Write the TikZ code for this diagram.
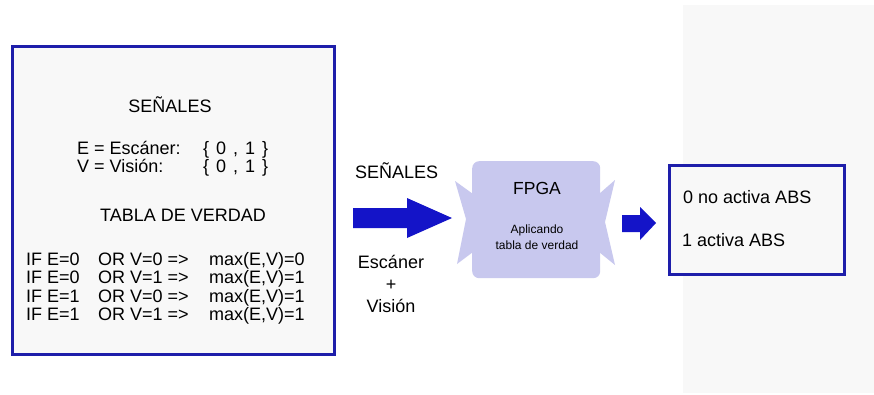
\documentclass[tikz,border=0pt]{standalone}
\usepackage{fontspec}
\setmainfont{Liberation Sans}
\definecolor{boxblue}{RGB}{30,30,170}
\definecolor{arrowblue}{RGB}{20,20,200}
\definecolor{lav}{RGB}{200,200,238}
\definecolor{panel}{RGB}{248,248,248}
\definecolor{boxfill}{RGB}{248,248,248}
\begin{document}
\begin{tikzpicture}[x=1pt,y=-1pt,
  txt/.style={inner sep=0pt,font=\fontsize{18}{18}\selectfont},
  small/.style={inner sep=0pt,font=\fontsize{12}{13}\selectfont},
  framebox/.style={draw=boxblue,line width=3pt,fill=boxfill},
  bigarrow/.style={fill=arrowblue,draw=none}]
\useasboundingbox (0,0) rectangle (874,394);
\fill[white] (0,0) rectangle (874,394);
% right grey panel
\fill[panel] (683,5) rectangle (874,393);

% left box
\node[framebox,minimum width=322pt,minimum height=308pt,anchor=north west] (left) at (11,45) {};
\node[txt,anchor=base] (t1) at (170,112) {SEÑALES};
\node[txt,anchor=base west] (e1) at (77,154) {E = Escáner:};
\node[txt,anchor=base west] (e2) at (203,154) {\{\hspace{2pt} 0\hspace{2pt} ,\hspace{2pt} 1\hspace{2pt} \}};
\node[txt,anchor=base west] (v1) at (77,172) {V = Visión:};
\node[txt,anchor=base west] (v2) at (203,172) {\{\hspace{2pt} 0\hspace{2pt} ,\hspace{2pt} 1\hspace{2pt} \}};
\node[txt,anchor=base] (t2) at (183,221) {TABLA DE VERDAD};
\foreach \i/\e/\v/\m in {0/0/0/0,1/0/1/1,2/1/0/1,3/1/1/1}{
  \node[txt,anchor=base west] (ra\i) at (26,265+18.5*\i) {IF E=\e};
  \node[txt,anchor=base west] (rb\i) at (98,265+18.5*\i) {OR};
  \node[txt,anchor=base west] (rc\i) at (130,265+18.5*\i) {V=\v\ =>};
  \node[txt,anchor=base west] (rd\i) at (209,265+18.5*\i) {max(E,V)=\m};
}

% middle labels
\node[txt,anchor=base west] (sig) at (355,178) {SEÑALES};
\node[txt,anchor=base] (esc) at (391,268) {Escáner};
\node[txt,anchor=base] (plus) at (391,290) {+};
\node[txt,anchor=base] (vis) at (391,312) {Visión};

% big arrow
\fill[arrowblue] (353,208) -- (407,208) -- (407,198) -- (452,218) -- (407,238) -- (407,228) -- (353,228) -- cycle;

% FPGA shape
\fill[lav] (473,194) -- (455,181) -- (466,219) -- (457,264) -- (473,252) -- cycle;
\fill[lav] (599,194) -- (615,180) -- (605,222) -- (615,265) -- (599,252) -- cycle;
\node[fill=lav,rounded corners=7pt,minimum width=128pt,minimum height=117pt,anchor=north west,inner sep=0pt] (fpga) at (472,161) {};
\node[inner sep=0pt,font=\fontsize{17.5}{18}\selectfont,anchor=base] (fl) at (537,194) {FPGA};
\node[small,anchor=base] (ap1) at (537,233) {Aplicando};
\node[small,anchor=base] (ap2) at (537,249) {tabla de verdad};

% small arrow
\fill[arrowblue] (622,215) -- (640,215) -- (640,207) -- (656,223) -- (640,240) -- (640,232) -- (622,232) -- cycle;

% right box
\node[framebox,minimum width=175pt,minimum height=109pt,anchor=north west] (right) at (668,164) {};
\node[txt,anchor=base west] (o0) at (683,203) {0 no activa ABS};
\node[txt,anchor=base west] (o1) at (682,246) {1 activa ABS};
\end{tikzpicture}
\end{document}
